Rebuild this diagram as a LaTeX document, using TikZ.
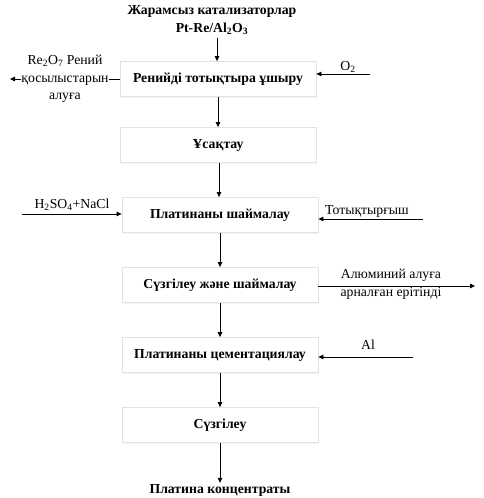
\documentclass[tikz,border=0pt]{standalone}
\usepackage{fontspec}
\setmainfont{Liberation Serif}
\usetikzlibrary{arrows.meta,shadows}
\definecolor{boxgray}{RGB}{222,227,234}
\begin{document}
\begin{tikzpicture}[x=1bp,y=-1bp,
  box/.style={draw=boxgray, fill=white, line width=0.8bp, minimum width=196bp, minimum height=35bp,
    font=\bfseries\fontsize{13.8}{17}\selectfont, inner sep=0pt,
    drop shadow={shadow xshift=1bp, shadow yshift=-1.5bp, opacity=0.08}},
  lbl/.style={font=\fontsize{13.8}{18}\selectfont, align=center, inner sep=1bp},
  blbl/.style={font=\bfseries\fontsize{13.8}{17.5}\selectfont, align=center, inner sep=1bp},
  arr/.style={-{Triangle[length=5bp,width=4.5bp]}, line width=0.8bp}]
\useasboundingbox (0,0) rectangle (484,498);

\node[blbl] (title) at (212,20) {Жарамсыз катализаторлар\\Pt-Re/Al\textsubscript{2}O\textsubscript{3}};
\node[box] (b1) at (218,79) {Ренийді тотықтыра ұшыру};
\node[box] (b2) at (218,145) {Ұсақтау};
\node[box] (b3) at (220,215) {Платинаны шаймалау};
\node[box] (b4) at (220,285) {Сүзгілеу және шаймалау};
\node[box] (b5) at (220,355) {Платинаны цементациялау};
\node[box] (b6) at (220,425) {Сүзгілеу};
\node[blbl] (conc) at (220,490) {Платина концентраты};

% main flow
\coordinate (tin) at (217,38);
\draw[arr] (tin) -- (tin |- b1.north);
\draw[arr] (b1.south) -- (b1.south |- b2.north);
\draw[arr] (b2.south) ++(1,0) coordinate (s2) (s2) -- (s2 |- b3.north);
\draw[arr] (b3.south) -- (b3.south |- b4.north);
\draw[arr] (b4.south) -- (b4.south |- b5.north);
\draw[arr] (b5.south) -- (b5.south |- b6.north);
\draw[arr] (b6.south) -- (b6.south |- conc.north);

% left output of box 1
\coordinate (reout) at (10,79);
\draw[arr] (b1.west) -- (reout);
\node[lbl, fill=white, inner sep=0.5bp, font=\fontsize{13.8}{17.5}\selectfont] (re) at (65,79) {Re\textsubscript{2}O\textsubscript{7} Рений\\қосылыстарын\\алуға};

% O2
\coordinate (o2s) at (370,74);
\node[lbl] (o2) at (348,67) {O\textsubscript{2}};
\draw[arr] (o2s) -- (o2s -| b1.east);

% H2SO4+NaCl
\coordinate (hs) at (22,214);
\node[lbl] (h2so4) at (72,205) {H\textsubscript{2}SO\textsubscript{4}+NaCl};
\draw[arr] (hs) -- (hs -| b3.west);

% oxidiser
\coordinate (ox) at (423,219);
\node[lbl] (oxl) at (367,211) {Тотықтырғыш};
\draw[arr] (ox) -- (ox -| b3.east);

% aluminium solution
\coordinate (alout) at (475,286);
\node[lbl] (alsol) at (391,284) {Алюминий алуға\\арналған ерітінді};
\draw[arr] (b4.east |- alout) -- (alout);

% Al
\coordinate (als) at (413,357);
\node[lbl] (al) at (368,345) {Al};
\draw[arr] (als) -- (als -| b5.east);
\end{tikzpicture}
\end{document}
